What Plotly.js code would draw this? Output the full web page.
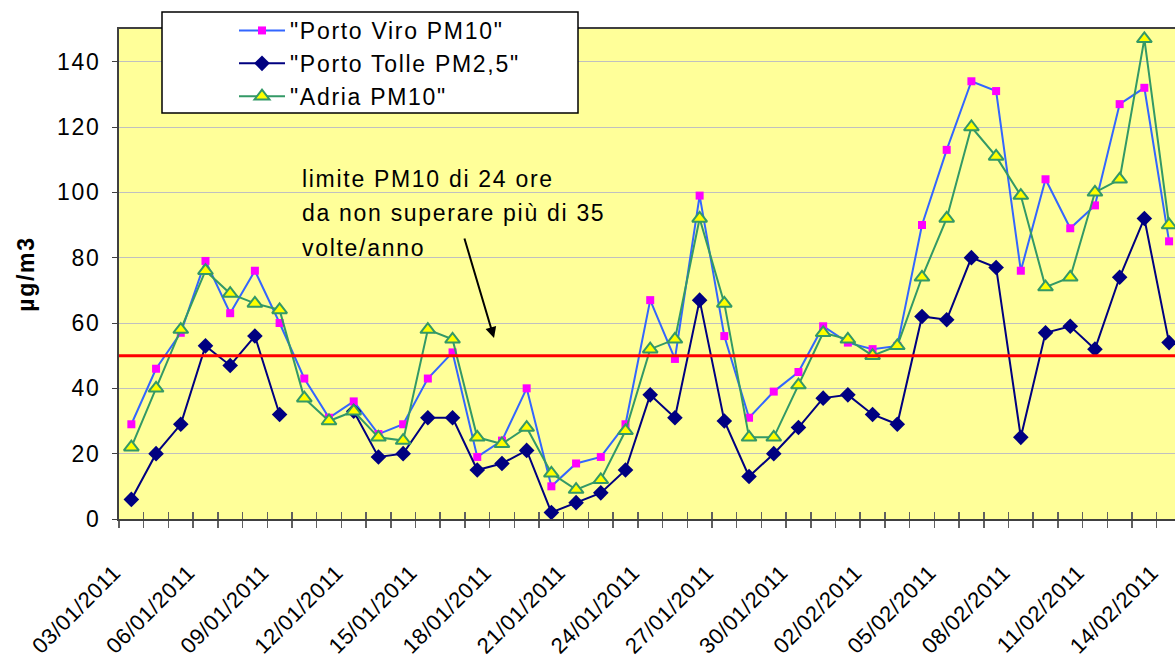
<!DOCTYPE html>
<html>
<head>
<meta charset="utf-8">
<script src="https://cdn.plot.ly/plotly-3.0.1.min.js"></script>
<style>
  html, body { margin: 0; padding: 0; background: #ffffff; overflow: hidden; }
  #chart { width: 1175px; height: 662px; }
  svg text { letter-spacing: 1.7px; }
  svg .xtick text { letter-spacing: 0.6px; }
</style>
</head>
<body>
<div id="chart"></div>
<script>
// ---- data ----
const dates = [
  "03/01/2011","04/01/2011","05/01/2011","06/01/2011","07/01/2011","08/01/2011","09/01/2011",
  "10/01/2011","11/01/2011","12/01/2011","13/01/2011","14/01/2011","15/01/2011","16/01/2011",
  "17/01/2011","18/01/2011","19/01/2011","20/01/2011","21/01/2011","22/01/2011","23/01/2011",
  "24/01/2011","25/01/2011","26/01/2011","27/01/2011","28/01/2011","29/01/2011","30/01/2011",
  "31/01/2011","01/02/2011","02/02/2011","03/02/2011","04/02/2011","05/02/2011","06/02/2011",
  "07/02/2011","08/02/2011","09/02/2011","10/02/2011","11/02/2011","12/02/2011","13/02/2011",
  "14/02/2011"
];
const portoViroPM10 = [29,46,57,79,63,76,60,43,31,36,26,29,43,51,19,24,40,10,17,19,29,67,49,99,56,31,39,45,59,54,52,53,90,113,134,131,76,104,89,96,127,132,85];
const portoTollePM25 = [6,20,29,53,47,56,32,null,null,33,19,20,31,31,15,17,21,2,5,8,15,38,31,67,30,13,20,28,37,38,32,29,62,61,80,77,25,57,59,52,74,92,54];
const adriaPM10 = [22,40,58,76,69,66,64,37,30,33,25,24,58,55,25,23,28,14,9,12,27,52,55,92,66,25,25,41,57,55,50,53,74,92,120,111,99,71,74,100,104,147,90];
const seriesNames = ['"Porto Viro PM10"', '"Porto Tolle PM2,5"', '"Adria PM10"'];
const limitPM10 = 50;
const yTicks = [0, 20, 40, 60, 80, 100, 120, 140];
const labelStep = 3;
const noteLines = ["limite PM10 di 24 ore", "da non superare più di 35", "volte/anno"];

// ---- derived positions on the axis ----
const xIdx = dates.map((d, i) => i);
const tickIdx = xIdx.filter(i => i % labelStep === 0);
const tickText = tickIdx.map(i => dates[i]);
const boundaries = xIdx.map(i => i - 0.5).concat([dates.length - 0.5]);
const xRange = [-0.5, dates.length - 0.76];

const FONT = 'Liberation Sans, Arial, sans-serif';

const traces = [
  {
    x: xIdx, y: portoViroPM10, name: seriesNames[0], type: 'scatter', mode: 'lines+markers',
    line: { color: '#3366FF', width: 2 },
    marker: { symbol: 'square', size: 8, color: '#FF00FF' },
    hoverinfo: 'skip'
  },
  {
    x: xIdx, y: portoTollePM25, name: seriesNames[1], type: 'scatter', mode: 'lines+markers',
    line: { color: '#000080', width: 2 },
    marker: { symbol: 'diamond', size: 12, color: '#000080' },
    connectgaps: false,
    hoverinfo: 'skip'
  },
  {
    x: xIdx, y: adriaPM10, name: seriesNames[2], type: 'scatter', mode: 'lines+markers',
    line: { color: '#339966', width: 2 },
    marker: { symbol: 'triangle-up', size: 13, color: '#FFFF00', line: { color: '#339966', width: 2 } },
    hoverinfo: 'skip'
  },
  { x: [], y: [], xaxis: 'x2', yaxis: 'y', showlegend: false, hoverinfo: 'skip', type: 'scatter' }
];

const L = 119, T = 29, B = 143, W = 1175, H = 662;
const pw = W - L, ph = H - T - B;
const px = v => (v - L) / pw;      // pixel -> paper x
const py = v => (H - B - v) / ph;  // pixel -> paper y

const annotations = noteLines.map((t, k) => ({
  text: t, xref: 'paper', yref: 'paper', x: px(300), y: py(179 + k * 34.5),
  xanchor: 'left', yanchor: 'middle', showarrow: false,
  font: { family: FONT, size: 23, color: '#000000' }
}));
annotations.push({
  text: '', xref: 'paper', yref: 'paper', x: px(494), y: py(338),
  showarrow: true, ax: -30, ay: -101, arrowhead: 2, arrowsize: 1.1, arrowwidth: 2,
  arrowcolor: '#000000', standoff: 0
});

const layout = {
  width: W, height: H,
  margin: { l: L, r: 0, t: T, b: B, pad: 0 },
  paper_bgcolor: '#ffffff',
  plot_bgcolor: '#FFFF99',
  showlegend: true,
  font: { family: FONT, size: 22, color: '#000000' },
  xaxis: {
    type: 'linear', range: xRange, autorange: false,
    tickmode: 'array', tickvals: tickIdx, ticktext: tickText,
    ticks: '', tickangle: -45,
    ticklabelstandoff: 30, ticklabelshift: -17,
    tickfont: { family: FONT, size: 22, color: '#000000' },
    showgrid: false, zeroline: false,
    showline: true, linecolor: '#404040', linewidth: 2, mirror: true,
    minor: { tickmode: 'array', tickvals: boundaries, ticks: 'outside', ticklen: 7, tickwidth: 1.5, tickcolor: '#606060', showgrid: false }
  },
  xaxis2: {
    type: 'linear', range: xRange, autorange: false, overlaying: 'x', anchor: 'y', side: 'bottom',
    tickmode: 'array', tickvals: boundaries, ticks: 'inside', ticklen: 7, tickwidth: 1.5, tickcolor: '#606060',
    showticklabels: false, showgrid: false, zeroline: false, showline: false
  },
  yaxis: {
    range: [0, 150], autorange: false,
    tickmode: 'array', tickvals: yTicks,
    ticks: 'outside', ticklen: 5, tickcolor: '#404040',
    ticklabelstandoff: 7,
    tickfont: { family: FONT, size: 23, color: '#000000' },
    showgrid: true, gridcolor: '#C0C0C0', gridwidth: 1,
    zeroline: false, showline: true, linecolor: '#404040', linewidth: 2,
    title: { text: 'µg/m3', standoff: 16, font: { family: FONT, size: 23, color: '#000000', weight: 'bold' } }
  },
  legend: {
    x: px(234), xanchor: 'left', y: py(9), yanchor: 'top',
    bgcolor: 'rgba(0,0,0,0)', borderwidth: 0,
    itemwidth: 46,
    font: { family: FONT, size: 23, color: '#000000' },
    traceorder: 'normal'
  },
  shapes: [
    { type: 'line', xref: 'paper', yref: 'y', x0: 0, x1: 1, y0: limitPM10, y1: limitPM10,
      line: { color: '#FF0000', width: 3 }, layer: 'above' },
    { type: 'rect', xref: 'paper', yref: 'paper', x0: px(162), x1: px(578), y0: py(113), y1: py(12),
      fillcolor: '#ffffff', line: { color: '#000000', width: 1.5 }, layer: 'above' }
  ],
  annotations: annotations
};

Plotly.newPlot('chart', traces, layout, { displayModeBar: false, staticPlot: true });
</script>
</body>
</html>
